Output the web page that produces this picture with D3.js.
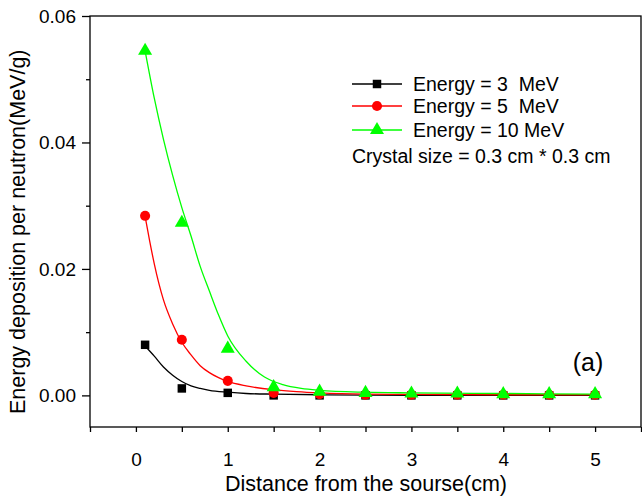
<!DOCTYPE html>
<html>
<head>
<meta charset="utf-8">
<script src="https://cdn.jsdelivr.net/npm/d3@7.9.0/dist/d3.min.js"></script>
<style>
  body { margin: 0; background: #fff; }
  svg { display: block; font-family: "Liberation Sans", Arial, sans-serif; }
</style>
</head>
<body>
<div id="chart"></div>
<script>
// measured points (x in cm)
const xPoints = [0.1, 0.5, 1, 1.5, 2, 2.5, 3, 3.5, 4, 4.5, 5];
const e3Points = [0.0080, 0.0011, 0.0004, 0.0000, 0.0000, 0.0000, 0.0000, 0.0000, 0.0000, 0.0000, 0.0000];
const e5Points = [0.0284, 0.0088, 0.0023, 0.0004, 0.0002, 0.0001, 0.0001, 0.0001, 0.0001, 0.0001, 0.0001];
const e10Points = [0.0545, 0.0273, 0.0074, 0.0013, 0.0006, 0.0004, 0.0003, 0.0003, 0.0002, 0.0002, 0.0002];

// fitted curves
const e3FitX = [0.1, 0.2, 0.3, 0.4, 0.5, 0.6, 0.7, 0.8, 1.0, 1.2, 1.5, 2, 3, 4, 5];
const e3FitY = [0.0078, 0.0062, 0.0045, 0.0032, 0.0022, 0.0015, 0.0011, 0.0008, 0.0005, 0.0003, 0.0002, 0.0001, 0.0000, 0.0000, 0.0000];
const e5FitX = [0.1, 0.15, 0.2, 0.3, 0.4, 0.5, 0.6, 0.7, 0.8, 0.9, 1.0, 1.2, 1.5, 1.75, 2, 2.5, 3, 4, 5];
const e5FitY = [0.0283, 0.0244, 0.0208, 0.0151, 0.0113, 0.0084, 0.0064, 0.0047, 0.0036, 0.0028, 0.0022, 0.0015, 0.0009, 0.0006, 0.0004, 0.0002, 0.00015, 0.0001, 0.0001];
const e10FitX = [0.1, 0.2, 0.3, 0.4, 0.5, 0.6, 0.7, 0.8, 0.9, 1.0, 1.2, 1.4, 1.6, 1.8, 2.0, 2.5, 3, 4, 5];
const e10FitY = [0.0545, 0.0470, 0.0405, 0.0348, 0.0297, 0.0252, 0.0204, 0.0165, 0.0127, 0.0094, 0.0054, 0.0029, 0.0017, 0.0011, 0.0008, 0.0005, 0.0004, 0.0003, 0.0002];

const legendLabels = ['Energy = 3  MeV', 'Energy = 5  MeV', 'Energy = 10 MeV'];
const xTickValues = [0, 1, 2, 3, 4, 5];
const xMinorTicks = [-0.5, 0.5, 1.5, 2.5, 3.5, 4.5, 5.5];
const yTickValues = [0, 0.02, 0.04, 0.06];
const yMinorTicks = [0.01, 0.03, 0.05];

const width = 642;
const height = 497;
const margin = { top: 16, right: 1, bottom: 70, left: 90 };

const xScale = d3.scaleLinear().domain([-0.5, 5.5]).range([margin.left, width - margin.right]);
const yScale = d3.scaleLinear().domain([-0.005, 0.06]).range([height - margin.bottom, margin.top]);

const svg = d3.select('#chart').append('svg')
    .attr('width', width)
    .attr('height', height);

const series = [
    { name: legendLabels[0], color: '#000000', shape: d3.symbolSquare, size: 72, pts: e3Points, fx: e3FitX, fy: e3FitY },
    { name: legendLabels[1], color: '#ff0000', shape: d3.symbolCircle, size: 80, pts: e5Points, fx: e5FitX, fy: e5FitY },
    { name: legendLabels[2], color: '#00ff00', shape: d3.symbolTriangle, size: 85, pts: e10Points, fx: e10FitX, fy: e10FitY },
];

// axes
const bottom = height - margin.bottom;
svg.append('g')
    .attr('transform', `translate(0, ${bottom})`)
    .call(d3.axisBottom(xScale).tickValues(xTickValues).tickSize(5).tickPadding(21).tickFormat(d3.format('d')))
    .call(g => g.select('.domain').remove());
svg.append('g')
    .attr('transform', `translate(0, ${bottom})`)
    .call(d3.axisBottom(xScale).tickValues(xMinorTicks).tickSize(5).tickFormat(''))
    .call(g => g.select('.domain').remove());
svg.append('g')
    .attr('transform', `translate(${margin.left}, 0)`)
    .call(d3.axisLeft(yScale).tickValues(yTickValues).tickSize(8).tickPadding(6).tickFormat(d3.format('.2f')))
    .call(g => g.select('.domain').remove());
svg.append('g')
    .attr('transform', `translate(${margin.left}, 0)`)
    .call(d3.axisLeft(yScale).tickValues(yMinorTicks).tickSize(4).tickFormat(''))
    .call(g => g.select('.domain').remove());

svg.selectAll('.tick text').attr('font-size', 19).attr('fill', '#000').attr('font-family', 'Liberation Sans, Arial, sans-serif');
svg.selectAll('.tick line').attr('stroke', '#000').attr('stroke-width', 1.3);

// frame
svg.append('rect')
    .attr('x', margin.left)
    .attr('y', margin.top)
    .attr('width', width - margin.right - margin.left)
    .attr('height', bottom - margin.top)
    .attr('fill', 'none')
    .attr('stroke', '#000')
    .attr('stroke-width', 1.3);

// fitted curves
const line = d3.line()
    .x(d => xScale(d[0]))
    .y(d => yScale(d[1]))
    .curve(d3.curveMonotoneX);

series.forEach(s => {
    svg.append('path')
        .datum(s.fx.map((x, i) => [x, s.fy[i]]))
        .attr('d', line)
        .attr('fill', 'none')
        .attr('stroke', s.color)
        .attr('stroke-width', 1.3);
});

// markers
series.forEach(s => {
    svg.append('g').selectAll('path')
        .data(xPoints.map((x, i) => [x, s.pts[i]]))
        .join('path')
        .attr('d', d3.symbol(s.shape, s.size))
        .attr('transform', d => `translate(${xScale(d[0])}, ${yScale(d[1])})`)
        .attr('fill', s.color);
});

// legend
const legend = svg.append('g');
const rowY = [84, 106, 130];
series.forEach((s, i) => {
    legend.append('line')
        .attr('x1', 352).attr('x2', 402)
        .attr('y1', rowY[i]).attr('y2', rowY[i])
        .attr('stroke', s.color).attr('stroke-width', 1.3);
    legend.append('path')
        .attr('d', d3.symbol(s.shape, s.size))
        .attr('transform', `translate(377, ${rowY[i]})`)
        .attr('fill', s.color);
    legend.append('text')
        .attr('x', 413).attr('y', rowY[i])
        .attr('dy', '0.35em')
        .attr('font-size', 19.5)
        .style('white-space', 'pre')
        .text(s.name);
});
legend.append('text')
    .attr('x', 352).attr('y', 156)
    .attr('dy', '0.35em')
    .attr('font-size', 19.5)
    .text('Crystal size = 0.3 cm * 0.3 cm');

svg.append('text')
    .attr('x', 588).attr('y', 362)
    .attr('dy', '0.35em')
    .attr('text-anchor', 'middle')
    .attr('font-size', 25)
    .text('(a)');

// axis titles
svg.append('text')
    .attr('x', 366)
    .attr('y', 483)
    .attr('dy', '0.35em')
    .attr('text-anchor', 'middle')
    .attr('font-size', 21.5)
    .text('Distance from the sourse(cm)');
svg.append('text')
    .attr('transform', 'translate(25, 414) rotate(-90)')
    .attr('text-anchor', 'start')
    .attr('font-size', 21.5)
    .text('Energy deposition per neutron(MeV/g)');
</script>
</body>
</html>
